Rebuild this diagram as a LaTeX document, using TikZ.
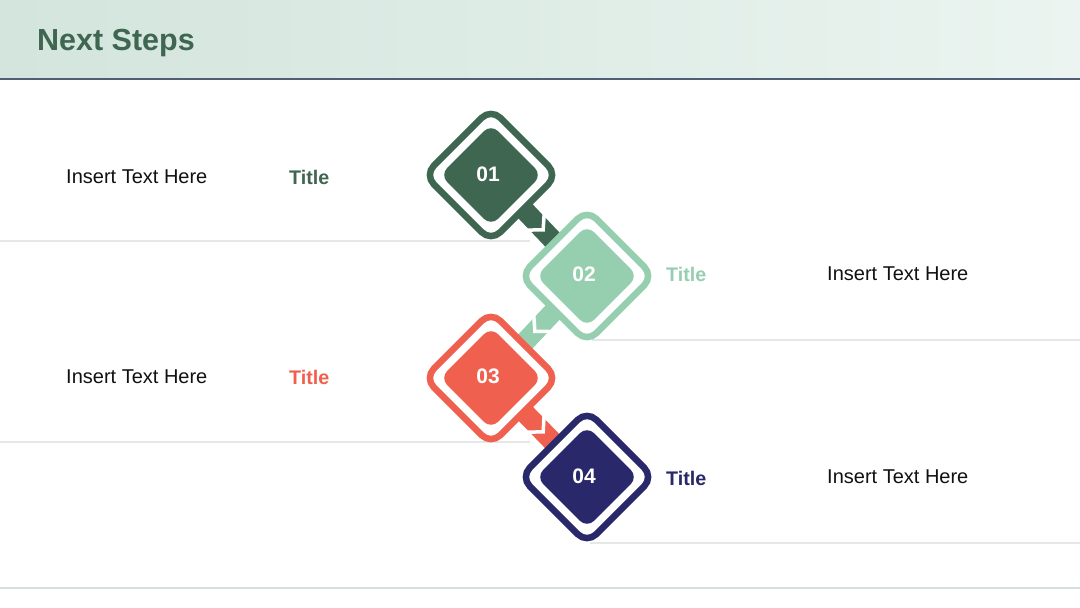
\documentclass[tikz,border=0pt]{standalone}
\usepackage{fontspec}
\setmainfont{Liberation Sans}
\usetikzlibrary{calc}
\definecolor{cA}{HTML}{3F6651}
\definecolor{cB}{HTML}{96CFB0}
\definecolor{cC}{HTML}{F0604F}
\definecolor{cD}{HTML}{28286A}
\definecolor{hdrL}{HTML}{D3E5DD}
\definecolor{hdrR}{HTML}{EBF4F0}
\definecolor{hdrLine}{HTML}{4F5E73}
\definecolor{rowLine}{HTML}{E6E7E7}
\definecolor{baseLine}{HTML}{D3E2DD}
\definecolor{bodyText}{HTML}{111111}
\tikzset{
  ring/.style={shape=rectangle, rotate=45, draw=#1, fill=white, line width=6.5pt,
    minimum size=94pt, inner sep=0pt, rounded corners=13pt},
  core/.style={shape=rectangle, rotate=45, fill=#1, minimum size=72pt,
    inner sep=0pt, rounded corners=10pt},
  num/.style={text=white, font=\bfseries\fontsize{21}{25}\selectfont, inner sep=0pt},
  band/.style={draw=#1, line width=20pt},
  chev/.style={draw=white, line width=3.5pt, line join=miter},
  body/.style={anchor=west, text=bodyText, font=\fontsize{20}{24}\selectfont, inner sep=0pt},
  ttl/.style={anchor=west, text=#1, font=\bfseries\fontsize{19.7}{24}\selectfont, inner sep=0pt},
  rowrule/.style={draw=rowLine, line width=1.2pt},
}
\begin{document}
\begin{tikzpicture}[x=1pt,y=-1pt]
\useasboundingbox (0,0) rectangle (1080,608);
\fill[white] (0,0) rectangle (1080,608);
% header
\shade[left color=hdrL, right color=hdrR] (0,0) rectangle (1080,78);
\draw[hdrLine, line width=2.4pt] (0,79) -- (1080,79);
\node[anchor=west, text=cA, font=\bfseries\fontsize{30.5}{36}\selectfont, inner sep=0pt] (head) at (37,43) {Next Steps};
% row rules
\draw[rowrule] (0,241) -- (530,241);
\draw[rowrule] (592,340) -- (1080,340);
\draw[rowrule] (0,442) -- (530,442);
\draw[rowrule] (590,543) -- (1080,543);
\draw[draw=baseLine, line width=1.5pt] (0,588) -- (1080,588);
% centres
\coordinate (p1) at (491,175);
\coordinate (p2) at (587,276);
\coordinate (p3) at (491,378);
\coordinate (p4) at (587,477);
% connectors
\draw[band=cA] (p1) -- (p2);
\draw[band=cB] (p2) -- (p3);
\draw[band=cC] (p3) -- (p4);
\foreach \a/\b/\m in {p1/p2/m1, p2/p3/m2, p3/p4/m3}{
  \coordinate (\m) at ($(\a)!0.5!(\b)$);
  \coordinate (\m v) at ($(\m)!6pt!(\b)$);
  \coordinate (\m b) at ($(\m)!-6pt!(\b)$);
  \draw[chev] ($(\m b)!13pt!90:(\b)$) -- (\m v) -- ($(\m b)!13pt!-90:(\b)$);
}
% diamonds
\node[ring=cA] (r1) at (p1) {};
\node[core=cA] (d1) at (p1) {};
\node[ring=cB] (r2) at (p2) {};
\node[core=cB] (d2) at (p2) {};
\node[ring=cC] (r3) at (p3) {};
\node[core=cC] (d3) at (p3) {};
\node[ring=cD] (r4) at (p4) {};
\node[core=cD] (d4) at (p4) {};
\node[num] (n1) at ($(p1)+(-3,-1)$) {01};
\node[num] (n2) at ($(p2)+(-3,-2)$) {02};
\node[num] (n3) at ($(p3)+(-3,-2)$) {03};
\node[num] (n4) at ($(p4)+(-3,-1)$) {04};
% texts
\node[body] (t1) at (66,177) {Insert Text Here};
\node[ttl=cA] (h1) at (289,177) {Title};
\node[ttl=cB] (h2) at (666,274) {Title};
\node[body] (t2) at (827,274) {Insert Text Here};
\node[body] (t3) at (66,377) {Insert Text Here};
\node[ttl=cC] (h3) at (289,377) {Title};
\node[ttl=cD] (h4) at (666,478) {Title};
\node[body] (t4) at (827,477) {Insert Text Here};
\end{tikzpicture}
\end{document}
